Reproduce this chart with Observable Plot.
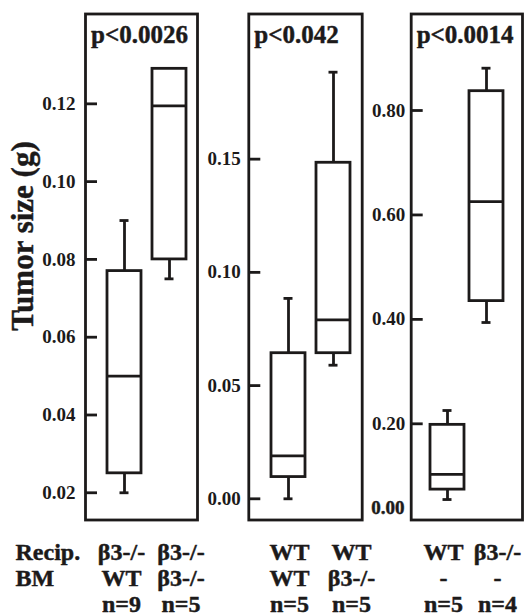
<!DOCTYPE html>
<html><head><meta charset="utf-8">
<script src="https://cdn.jsdelivr.net/npm/d3@7"></script>
<script src="https://cdn.jsdelivr.net/npm/@observablehq/plot@0.6"></script>
<style>
body{margin:0;background:#fff;}
#chart{position:relative;width:527px;height:616px;overflow:hidden;background:#fff;}
#chart svg{position:absolute;top:0;overflow:visible;}
</style></head><body><div id="chart"></div>
<script>
// ---- data ----
const recipient   = ["β3-/-", "β3-/-", "WT", "WT", "WT", "β3-/-"];
const boneMarrow  = ["WT", "β3-/-", "WT", "β3-/-", "-", "-"];
const nLabels     = ["n=9", "n=5", "n=5", "n=5", "n=5", "n=4"];
const panelOf     = [0, 0, 1, 1, 2, 2];
const whiskerLow  = [0.020, 0.075, 0.000, 0.059, 0.055, 0.394];
const quartile1   = [0.025, 0.080, 0.0096, 0.0643, 0.074, 0.435];
const medians     = [0.050, 0.1195, 0.019, 0.079, 0.103, 0.6255];
const quartile3   = [0.077, 0.129, 0.0643, 0.1484, 0.198, 0.837];
const whiskerHigh = [0.090, 0.129, 0.0885, 0.1884, 0.2255, 0.881];
const pValues     = ["p<0.0026", "p<0.042", "p<0.0014"];
const panelTicks  = [[0.02, 0.04, 0.06, 0.08, 0.10, 0.12], [0.00, 0.05, 0.10, 0.15], [0.20, 0.40, 0.60, 0.80]];
const extraTickLabel = "0.00"; // printed at bottom of panel 3, without a tick
const yTitle = "Tumor size (g)";
const rowHeader = ["Recip.", "BM"];

// ---- layout (not data) ----
const INK = "#1c1a1a";
const SW = 2.8;
const FONT = "'Liberation Serif','Times New Roman',Times,serif";
const TXT = {fill: INK, stroke: INK, strokeWidth: 0.45};
const layout = [
  {left: 0,   width: 200, ml: 85,   mr: 3,   domain: [0.0130, 0.1431],   range: [101.25, 192.25], pi: 0.2527, labelDx: [-3, 11.5], pad: 10},
  {left: 200, width: 165, ml: 48.3, mr: 3.3, domain: [-0.00936, 0.2141], range: [65.5, 155.5],   pi: 0.2444, labelDx: [1, 18],    pad: 8},
  {left: 365, width: 162, ml: 45.7, mr: 5,   domain: [0.0158, 0.9848],   range: [62.5, 140.5],   pi: 0.1282, labelDx: [-4, 11],   pad: 6}
];

const rows = recipient.map((r, i) => ({
  key: String(i), panel: panelOf[i], recip: r, bm: boneMarrow[i], n: nLabels[i],
  lo: whiskerLow[i], q1: quartile1[i], med: medians[i], q3: quartile3[i], hi: whiskerHigh[i]
}));

const chart = document.getElementById("chart");

layout.forEach((L, p) => {
  const rs = rows.filter(d => d.panel === p);
  const W = L.width - L.ml - L.mr;
  const ticks = panelTicks[p];
  const marks = [
    Plot.tickY(ticks, {y: d => d, insetRight: W - 12, stroke: INK, strokeWidth: SW}),
    Plot.axisY({ticks, tickFormat: d3.format(".2f"), tickSize: 0, tickPadding: L.pad, label: null, fontSize: 19, ...TXT}),
    Plot.ruleX(rs, {x: "key", y1: "lo", y2: "hi", stroke: INK, strokeWidth: SW}),
    Plot.tickY(rs, {x: "key", y: "lo", inset: 12.5, stroke: INK, strokeWidth: SW}),
    Plot.tickY(rs, {x: "key", y: "hi", inset: 12.5, stroke: INK, strokeWidth: SW}),
    Plot.barY(rs, {x: "key", y1: "q1", y2: "q3", fill: "white", stroke: INK, strokeWidth: SW}),
    Plot.tickY(rs, {x: "key", y: "med", stroke: INK, strokeWidth: SW}),
    Plot.frame({stroke: INK, strokeWidth: SW}),
    Plot.text([pValues[p]], {frameAnchor: "top-left", dx: 5.5, dy: 11, textAnchor: "start", lineAnchor: "top", fontSize: 25, ...TXT})
  ];
  rs.forEach((d, j) => {
    marks.push(Plot.text([d], {x: "key", frameAnchor: "bottom", text: d => `${d.recip}\n${d.bm}\n${d.n}`,
      dx: L.labelDx[j], dy: 21.5, lineAnchor: "top", lineHeight: 1.083, fontSize: 24, ...TXT}));
  });
  if (p === 0) {
    marks.push(Plot.text([rowHeader.join("\n")], {frameAnchor: "bottom-left", textAnchor: "start", dx: -70, dy: 21.5,
      lineAnchor: "top", lineHeight: 1.083, fontSize: 24, ...TXT}));
    marks.push(Plot.text([yTitle], {frameAnchor: "left", rotate: -90, dx: -62, dy: -31, fontSize: 31,
      textAnchor: "middle", lineAnchor: "middle", ...TXT}));
  }
  if (p === 2) {
    marks.push(Plot.text([extraTickLabel], {frameAnchor: "bottom-left", textAnchor: "end", dx: -6.7, dy: -12.5,
      lineAnchor: "middle", fontSize: 19, ...TXT}));
  }
  const svg = Plot.plot({
    width: L.width, height: 616,
    marginLeft: L.ml, marginRight: L.mr, marginTop: 13.5, marginBottom: 96.5,
    x: {type: "band", domain: rs.map(d => d.key), range: L.range, paddingInner: L.pi, paddingOuter: L.pi / 2, axis: null},
    y: {domain: L.domain, nice: false, zero: false},
    style: {fontFamily: FONT, fontWeight: "bold", background: "transparent", overflow: "visible", color: INK},
    marks
  });
  svg.style.left = L.left + "px";
  chart.appendChild(svg);
});
</script></body></html>
